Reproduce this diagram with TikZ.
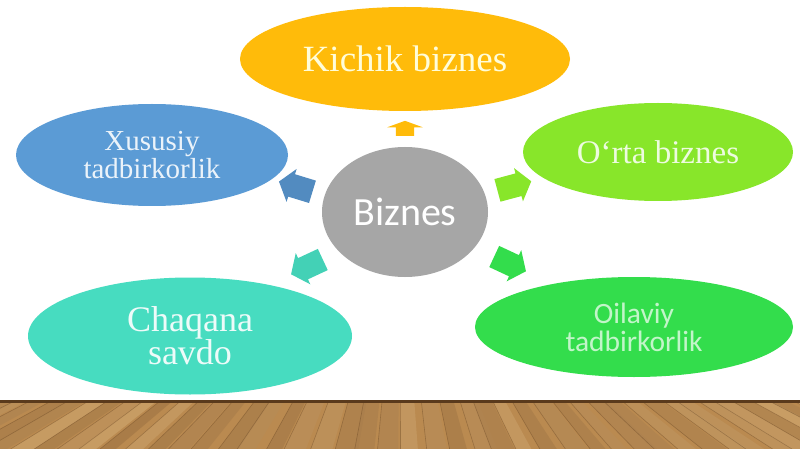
\documentclass[tikz,border=0pt]{standalone}
\usepackage{fontspec}
\setmainfont{Liberation Serif}
\newfontfamily\carl{Carlito}
\usetikzlibrary{shapes.geometric,shapes.arrows}
\definecolor{corange}{HTML}{FFBB0A}
\definecolor{clime}{HTML}{88E62A}
\definecolor{cblue}{HTML}{5B9BD5}
\definecolor{cteal}{HTML}{47DCC0}
\definecolor{cgreen}{HTML}{33DD4C}
\definecolor{cgray}{HTML}{A6A6A6}
\definecolor{woodmid}{HTML}{BA8A50}
\definecolor{woodlight}{HTML}{DDB57C}
\definecolor{wooddark}{HTML}{8A5E30}
\definecolor{woodline}{HTML}{5A3A1C}
\begin{document}
\begin{tikzpicture}[x=1pt,y=-1pt,
  bubble/.style={ellipse, inner sep=0pt, align=center},
  barrow/.style={single arrow, inner xsep=0pt, single arrow head indent=0pt},
  sidearrow/.style={barrow, inner ysep=11.5pt, minimum height=35pt,
     single arrow head extend=5.5pt, single arrow tip angle=105},
  toparrow/.style={barrow, inner ysep=9pt, minimum height=15pt,
     single arrow head extend=8.5pt, single arrow tip angle=140}]
\useasboundingbox (0,0) rectangle (800,449);
\fill[white] (0,0) rectangle (800,449);
% floor
\fill[woodmid] (0,400) rectangle (800,449);
\pgfmathsetseed{11}
\foreach \i in {0,...,44}{
  \pgfmathsetmacro\xa{\i*18.5-8+rnd*6}
  \pgfmathsetmacro\xb{\xa+12+rnd*8}
  \pgfmathsetmacro\p{20+rnd*70}
  \pgfmathsetmacro\xc{400+(\xa-400)*1.25}
  \pgfmathsetmacro\xd{400+(\xb-400)*1.25}
  \fill[woodlight!\p!wooddark, opacity=0.6] (\xa,401) -- (\xb,401) -- (\xd,449) -- (\xc,449) -- cycle;
  \draw[woodline, opacity=0.35, line width=0.6pt] (\xa,401) -- (\xc,449);
}
\fill[woodline] (0,400) rectangle (800,402.5);
% bubbles
\node[bubble, fill=cgray, minimum width=166pt, minimum height=130pt,
  text=white, font=\carl\fontsize{40}{42}\selectfont] (c) at (405,212) {Biznes};
\node[bubble, fill=corange, minimum width=330pt, minimum height=104pt,
  text=white!85!yellow, font=\fontsize{37}{38}\selectfont] (top) at (405,59) {Kichik biznes};
\node[bubble, fill=clime, minimum width=270pt, minimum height=98pt,
  text=white!85!clime, font=\fontsize{33}{34}\selectfont] (rt) at (658,152) {O\symbol{96}rta biznes};
\node[bubble, fill=cblue, minimum width=272pt, minimum height=102pt,
  text=white!88!cblue, font=\fontsize{29}{28}\selectfont] (lt) at (152,155) {Xususiy\\tadbirkorlik};
\node[bubble, fill=cteal, minimum width=324pt, minimum height=117pt,
  text=white!90!cteal, font=\fontsize{36}{33}\selectfont] (lb) at (190,336) {Chaqana\\savdo};
\node[bubble, fill=cgreen, minimum width=318pt, minimum height=100pt,
  text=white!70!cgreen, font=\carl\fontsize{29.5}{28}\selectfont] (rb) at (634,327) {Oilaviy\\tadbirkorlik};
% arrows
\node[toparrow, fill=corange, rotate=90] (atop) at (405,130) {};
\node[sidearrow, fill=cblue!90!black, rotate=163] (alt) at (300,188) {};
\node[sidearrow, fill=clime, rotate=15] (art) at (510,187) {};
\node[sidearrow, fill=cteal!95!black, rotate=205] (alb) at (311,265) {};
\node[sidearrow, fill=cgreen, rotate=-25] (arb) at (506,262) {};
\end{tikzpicture}
\end{document}
